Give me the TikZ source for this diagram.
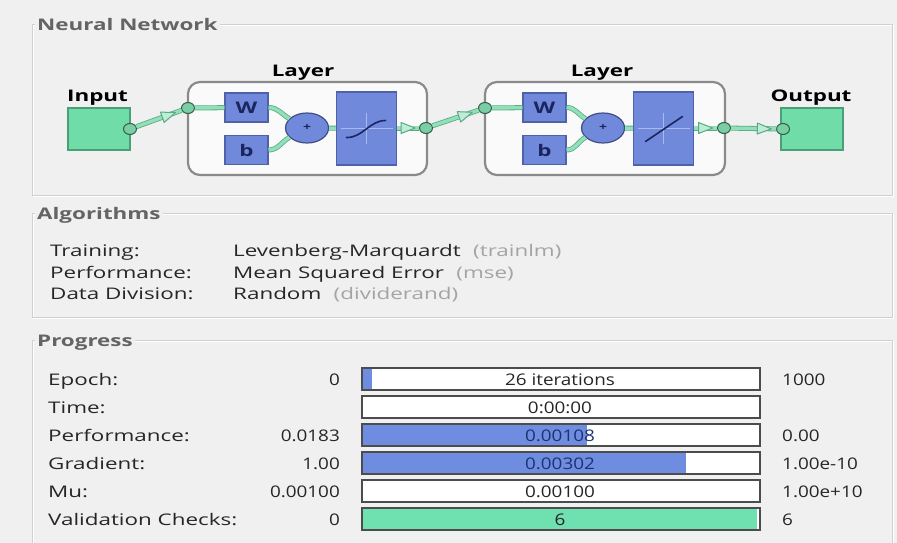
\documentclass[tikz,border=0pt]{standalone}
\usepackage{fontspec}
\setmainfont[FakeStretch=1.4]{Open Sans}
\newfontfamily\numfont[FakeStretch=1.18]{Open Sans}
\usetikzlibrary{shapes.geometric,decorations.markings,calc}

\definecolor{bg}{HTML}{F0F0F0}
\definecolor{grpline}{HTML}{D0D0D0}
\definecolor{grptitle}{HTML}{646464}
\definecolor{txt}{HTML}{262626}
\definecolor{dimtxt}{HTML}{A4A4A4}
\definecolor{bluefill}{HTML}{7189DA}
\definecolor{blueedge}{HTML}{4F62A8}
\definecolor{bluelight}{HTML}{A9BAF0}
\definecolor{navy}{HTML}{1B2560}
\definecolor{greenfill}{HTML}{70DCA8}
\definecolor{greenedge}{HTML}{4A9E78}
\definecolor{wire}{HTML}{92E0BA}
\definecolor{wireedge}{HTML}{5AAA84}
\definecolor{dotfill}{HTML}{7ACDA4}
\definecolor{dotedge}{HTML}{2F5F48}
\definecolor{layeredge}{HTML}{8A8A8A}
\definecolor{layerfill}{HTML}{FAFAFA}
\definecolor{barfill}{HTML}{6E8DE0}
\definecolor{bargreen}{HTML}{6FE0B0}
\definecolor{baredge}{HTML}{4C4C4C}
\definecolor{bartxt}{HTML}{1F3270}

\begin{document}
\begin{tikzpicture}[
  x=1pt, y=-1pt,
  grpbox/.style={draw=grpline, line width=1pt},
  grphi/.style={draw=white, line width=1pt},
  grptitle/.style={anchor=base west, inner xsep=2pt, inner ysep=1pt, fill=bg,
    text=grptitle, font=\fontsize{16}{19}\selectfont\bfseries},
  lbl/.style={anchor=base west, inner sep=0pt, text=txt, font=\fontsize{16}{19}\selectfont},
  dimlbl/.style={anchor=base west, inner sep=0pt, text=dimtxt, font=\fontsize{16}{19}\selectfont},
  numl/.style={anchor=base east, inner sep=0pt, text=txt, font=\fontsize{16}{19}\numfont},
  numr/.style={anchor=base west, inner sep=0pt, text=txt, font=\fontsize{16}{19}\numfont},
  bartext/.style={anchor=base, inner sep=0pt, text=txt, font=\fontsize{16}{19}\numfont},
  bar/.style={draw=baredge, fill=white, line width=1.5pt, minimum width=398pt,
    minimum height=22pt, inner sep=0pt},
  netlbl/.style={anchor=base, inner sep=0pt, text=black, font=\fontsize{16}{19}\selectfont\bfseries},
  gbox/.style={draw=greenedge, fill=greenfill, line width=1.2pt, minimum width=62pt,
    minimum height=42pt, inner sep=0pt},
  bbox/.style={draw=blueedge, fill=bluefill, line width=1.2pt, minimum width=43pt,
    minimum height=29pt, inner sep=0pt, text=navy, font=\fontsize{16}{19}\selectfont\bfseries},
  tfbox/.style={draw=blueedge, fill=bluefill, line width=1.2pt, minimum width=60pt,
    minimum height=73pt, inner sep=0pt},
  sumnode/.style={ellipse, draw=blueedge!80!black, fill=bluefill, line width=1.2pt,
    minimum width=43pt, minimum height=30pt, inner sep=0pt, text=navy,
    font=\fontsize{10}{12}\selectfont\bfseries},
  layerbox/.style={draw=layeredge, fill=layerfill, line width=2.2pt, rounded corners=12pt,
    minimum height=93pt, inner sep=0pt},
  dot/.style={ellipse, draw=dotedge, fill=dotfill, line width=1pt, minimum width=13pt,
    minimum height=11pt, inner sep=0pt},
  wirestyle/.style={draw=wireedge, line width=0.8pt, double=wire, double distance=3.4pt},
  tri/.style={draw=wireedge, fill=wire!60!white, line width=1pt, line join=round},
  arrmark/.style={decoration={markings, mark=at position #1 with
    {\draw[tri] (-7,-5.5) -- (7,0) -- (-7,5.5) -- cycle;}}, decorate},
  axisline/.style={draw=bluelight, line width=0.8pt},
  curveline/.style={draw=navy, line width=1.6pt, line cap=round}
]
\useasboundingbox (0,0) rectangle (897,543);
\fill[bg] (0,0) rectangle (897,543);
\clip (0,0) rectangle (897,543);

% ---------- group frames ----------
\draw[grphi] (33,26) rectangle (893,196);
\draw[grpbox] (32,25) rectangle (892,195);
\node[grptitle] at (35,31) {Neural Network};

\draw[grphi] (33,214) rectangle (893,318);
\draw[grpbox] (32,213) rectangle (892,317);
\node[grptitle] at (35,219) {Algorithms};

\draw[grphi] (33,341) rectangle (893,600);
\draw[grpbox] (32,340) rectangle (892,599);
\node[grptitle] at (35,346) {Progress};

% ---------- network diagram ----------
\node[gbox] (inbox) at (99,129) {};
\node[netlbl] (inlbl) at (97.5,101) {Input};

\node[layerbox, minimum width=239pt] (lay1) at (307.5,128.5) {};
\node[netlbl] (lay1lbl) at (303,77) {Layer};
\node[bbox] (w1) at (246.5,107.5) {W};
\node[bbox] (b1) at (246.5,150) {b};
\node[sumnode] (s1) at (307,128) {+};
\node[tfbox] (tf1) at (366.5,128.5) {};

\node[layerbox, minimum width=240pt] (lay2) at (605,128.5) {};
\node[netlbl] (lay2lbl) at (602,77) {Layer};
\node[bbox] (w2) at (544.5,107.5) {W};
\node[bbox] (b2) at (544.5,150) {b};
\node[sumnode] (s2) at (603,128) {+};
\node[tfbox] (tf2) at (663.5,128.5) {};

\node[gbox] (outbox) at (812,129) {};
\node[netlbl] (outlbl) at (811,101) {Output};

% transfer function glyphs
\begin{scope}[shift={(tf1.center)}]
  \draw[axisline] (-26,0) -- (26,0);
  \draw[axisline] (0,-16) -- (0,15);
  \draw[curveline] (-20,9) .. controls (-4,9.5) and (3,-8) .. (19,-8);
\end{scope}
\begin{scope}[shift={(tf2.center)}]
  \draw[axisline] (-26,0) -- (26,0);
  \draw[axisline] (0,-16) -- (0,15);
  \draw[curveline] (-18,13) -- (19,-12);
\end{scope}

% connection points
\node[dot] (inc) at (130,129) {};
\node[dot] (l1in) at (188,108) {};
\node[dot] (l1out) at (426,128) {};
\node[dot] (l2in) at (485,108) {};
\node[dot] (l2out) at (724,128) {};
\node[dot] (outc) at (783,129) {};

% wires
\draw[wirestyle] (inc) -- (l1in);
\draw[wirestyle] (l1in) -- (w1);
\draw[wirestyle] (w1.east) to[out=0, in=150] (s1.152);
\draw[wirestyle] (b1.east) to[out=0, in=210] (s1.208);
\draw[wirestyle] (s1) -- (tf1);
\draw[wirestyle] (tf1.east |- l1out) -- (l1out);
\draw[wirestyle] (l1out) -- (l2in);
\draw[wirestyle] (l2in) -- (w2);
\draw[wirestyle] (w2.east) to[out=0, in=150] (s2.152);
\draw[wirestyle] (b2.east) to[out=0, in=210] (s2.208);
\draw[wirestyle] (s2) -- (tf2);
\draw[wirestyle] (tf2.east |- l2out) -- (l2out);
\draw[wirestyle] (l2out) -- (outc);

% arrowheads on the wires
\path[arrmark=0.72] (inc) -- (l1in);
\path[arrmark=0.5] (tf1.east |- l1out) -- (l1out);
\path[arrmark=0.72] (l1out) -- (l2in);
\path[arrmark=0.5] (tf2.east |- l2out) -- (l2out);
\path[arrmark=0.74] (l2out) -- (outc);

% ---------- algorithms ----------
\node[lbl] (alg1) at (50,256) {Training:};
\node[lbl] (alg2) at (50,278) {Performance:};
\node[lbl] (alg3) at (50,299) {Data Division:};
\node[lbl] (algv1) at (233,256) {Levenberg-Marquardt};
\node[dimlbl, anchor=base west] at ($(algv1.base east)+(12,0)$) {(trainlm)};
\node[lbl] (algv2) at (233,278) {Mean Squared Error};
\node[dimlbl, anchor=base west] at ($(algv2.base east)+(12,0)$) {(mse)};
\node[lbl] (algv3) at (233,299) {Random};
\node[dimlbl, anchor=base west] at ($(algv3.base east)+(12,0)$) {(dividerand)};

% ---------- progress ----------
\node[lbl] (p1) at (48,385) {Epoch:};
\node[lbl] (p2) at (48,413) {Time:};
\node[lbl] (p3) at (48,441) {Performance:};
\node[lbl] (p4) at (48,469) {Gradient:};
\node[lbl] (p5) at (48,497) {Mu:};
\node[lbl] (p6) at (48,525) {Validation Checks:};

\node[numl] (s1v) at (340,385) {0};
\node[numl] (s3v) at (340,441) {0.0183};
\node[numl] (s4v) at (340,469) {1.00};
\node[numl] (s5v) at (340,497) {0.00100};
\node[numl] (s6v) at (340,525) {0};

\node[bar] (bar1) at (561,379) {};
\node[bar] (bar2) at (561,407) {};
\node[bar] (bar3) at (561,435) {};
\node[bar] (bar4) at (561,463) {};
\node[bar] (bar5) at (561,491) {};
\node[bar] (bar6) at (561,519) {};

\fill[barfill] ($(bar1.north west)+(1.5,1.5)$) rectangle ($(bar1.south west)+(11,-1.5)$);
\fill[barfill] ($(bar3.north west)+(1.5,1.5)$) rectangle ($(bar3.south west)+(226,-1.5)$);
\fill[barfill] ($(bar4.north west)+(1.5,1.5)$) rectangle ($(bar4.south west)+(325,-1.5)$);
\fill[bargreen] ($(bar6.north west)+(1.5,1.5)$) rectangle ($(bar6.south east)+(-4,-1.5)$);

\node[bartext] at (560,385) {26 iterations};
\node[bartext] at (560,413) {0:00:00};
\node[bartext, text=bartxt] at (560,441) {0.00108};
\node[bartext, text=bartxt] at (560,469) {0.00302};
\node[bartext] at (560,497) {0.00100};
\node[bartext] at (560,525) {6};

\node[numr] (e1v) at (782,385) {1000};
\node[numr] (e3v) at (782,441) {0.00};
\node[numr] (e4v) at (782,469) {1.00e-10};
\node[numr] (e5v) at (782,497) {1.00e+10};
\node[numr] (e6v) at (782,525) {6};
\end{tikzpicture}
\end{document}
